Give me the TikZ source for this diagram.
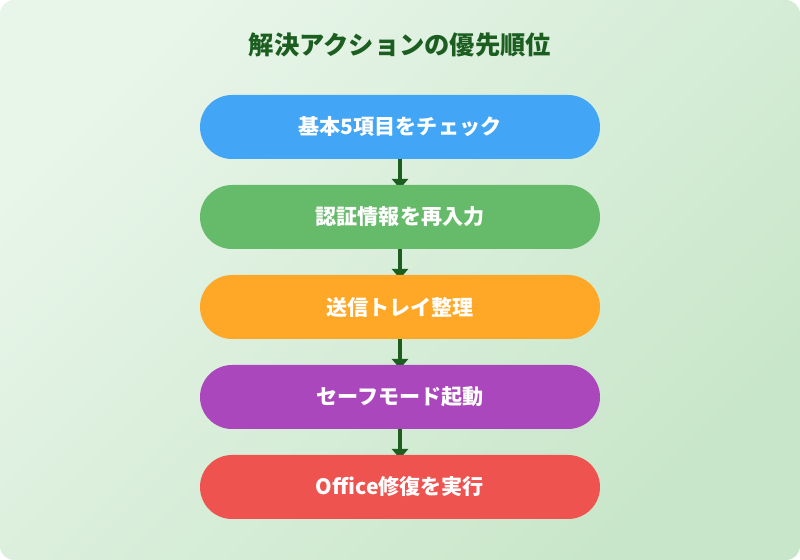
\documentclass[tikz,border=0pt]{standalone}
\usepackage{fontspec}
\setmainfont{Noto Sans CJK JP}
\usetikzlibrary{arrows.meta, positioning}
\usepackage{xcolor}
\definecolor{fixblue}{HTML}{42A5F5}
\definecolor{fixgreen}{HTML}{66BB6A}
\definecolor{fixorange}{HTML}{FFA726}
\definecolor{fixpurple}{HTML}{AB47BC}
\definecolor{fixred}{HTML}{EF5350}
\definecolor{fixdark}{HTML}{1B5E20}
\definecolor{bglight}{HTML}{E8F5E9}
\definecolor{bgdeep}{HTML}{C8E6C9}
\pgfdeclarelayer{back}
\pgfdeclarelayer{background}
\pgfsetlayers{back,background,main}

\begin{document}
\begin{tikzpicture}[
    stepbox/.style={
        rectangle,
        rounded corners=0.8cm,
        minimum width=10cm,
        minimum height=1.6cm,
        draw=none,
        fill=#1,
        text=white,
        font=\bfseries\fontsize{15}{18}\selectfont
    },
    flow/.style={
        -{Triangle[width=11.5pt, length=7pt]},
        line width=2.2pt,
        shorten >=-0.1cm,
        fixdark
    }
]

% Background
\useasboundingbox (0,0) rectangle (20,14);
\begin{pgfonlayer}{back}
\shade[rounded corners=0.35cm, top color=bglight, bottom color=bgdeep, shading angle=45]
    (0,0) rectangle (20,14);
\end{pgfonlayer}

% Title
\node[font=\bfseries\fontsize{18}{22}\selectfont, text=fixdark] (title) at (10,12.875) {解決アクションの優先順位};

% Steps
\node[stepbox=fixblue] (check) at (10,10.825) {基本5項目をチェック};
\node[stepbox=fixgreen] (auth) at (10,8.575) {認証情報を再入力};
\node[stepbox=fixorange] (outbox) at (10,6.325) {送信トレイ整理};
\node[stepbox=fixpurple] (safe) at (10,4.075) {セーフモード起動};
\node[stepbox=fixred] (repair) at (10,1.825) {Office修復を実行};

% Arrows
\begin{pgfonlayer}{background}
\draw[flow] (check) -- (auth);
\draw[flow] (auth) -- (outbox);
\draw[flow] (outbox) -- (safe);
\draw[flow] (safe) -- (repair);
\end{pgfonlayer}

\end{tikzpicture}
\end{document}
